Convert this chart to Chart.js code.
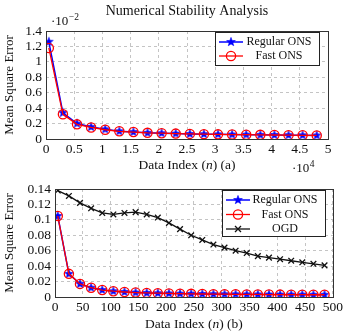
<!DOCTYPE html>
<html><head><meta charset="utf-8">
<script src="https://cdn.jsdelivr.net/npm/chart.js@4.4.0/dist/chart.umd.min.js"></script>
<style>
html,body{margin:0;padding:0;background:#fff;overflow:hidden;}
#wrap{position:relative;width:345px;height:335px;}
canvas{position:absolute;left:0;top:0;}
</style></head><body>
<div id="wrap">
<canvas id="c1" width="345" height="335" style="width:345px;height:335px"></canvas>
<canvas id="c2" width="345" height="335" style="width:345px;height:335px"></canvas>
</div>
<script>
// ---- Data: chart (a), x in units of 10^4, y in units of 10^-2
const xA = [0.05,0.3,0.55,0.8,1.05,1.3,1.55,1.8,2.05,2.3,2.55,2.8,3.05,3.3,3.55,3.8,4.05,4.3,4.55,4.8];
const regularA = [1.26,0.34,0.20,0.155,0.125,0.10,0.09,0.08,0.075,0.07,0.066,0.063,0.06,0.058,0.056,0.054,0.052,0.05,0.048,0.046];
const fastA    = [1.18,0.32,0.19,0.15,0.12,0.10,0.09,0.08,0.075,0.07,0.066,0.063,0.06,0.058,0.056,0.054,0.052,0.05,0.048,0.046];
// ---- Data: chart (b)
const xB = [5,25,45,65,85,105,125,145,165,185,205,225,245,265,285,305,325,345,365,385,405,425,445,465,485];
const regularB = [0.105,0.030,0.017,0.012,0.009,0.0075,0.0065,0.0058,0.0053,0.0049,0.0046,0.0043,0.0041,0.0039,0.0037,0.0036,0.0035,0.0034,0.0033,0.0032,0.0031,0.0030,0.0030,0.0029,0.0029];
const fastB    = [0.105,0.030,0.017,0.012,0.009,0.0075,0.0065,0.0058,0.0053,0.0049,0.0046,0.0043,0.0041,0.0039,0.0037,0.0036,0.0035,0.0034,0.0033,0.0032,0.0031,0.0030,0.0030,0.0029,0.0029];
const ogdB     = [0.138,0.131,0.122,0.115,0.109,0.107,0.109,0.110,0.107,0.103,0.096,0.088,0.080,0.074,0.068,0.064,0.060,0.057,0.053,0.051,0.049,0.047,0.045,0.043,0.041];
const seriesNames = ['Regular ONS','Fast ONS','OGD'];
const titleText = 'Numerical Stability Analysis';
const yTitle = 'Mean Square Error';

const FONT = "'Liberation Serif', 'Times New Roman', serif";

function starImage(color, R, r) {
  const s = Math.ceil(R*2)+2;
  const c = document.createElement('canvas');
  c.width = s; c.height = s;
  const g = c.getContext('2d');
  g.fillStyle = color; g.strokeStyle = color; g.lineWidth = 0.6;
  g.beginPath();
  for (let i = 0; i < 10; i++) {
    const rad = i % 2 === 0 ? R : r;
    const a = -Math.PI/2 + i*Math.PI/5;
    const px = s/2 + rad*Math.cos(a), py = s/2 + rad*Math.sin(a);
    i === 0 ? g.moveTo(px, py) : g.lineTo(px, py);
  }
  g.closePath(); g.fill(); g.stroke();
  return c;
}
const STAR = starImage('#0000ff', 4.6, 1.9);

function pts(xs, ys) { return xs.map((x, i) => ({x, y: ys[i]})); }

function dsRegular(xs, ys) {
  return {label: seriesNames[0], data: pts(xs, ys), borderColor:'#0000ff', backgroundColor:'#0000ff',
    borderWidth:1.5, pointStyle: STAR, pointRadius:4.6, tension:0, order:2, mk:'star'};
}
function dsFast(xs, ys) {
  return {label: seriesNames[1], data: pts(xs, ys), borderColor:'#ff0000', backgroundColor:'rgba(0,0,0,0)',
    borderWidth:1.3, pointStyle:'circle', pointRadius:4.6, pointBorderWidth:1.3, tension:0, order:1, mk:'circle'};
}
function dsOgd(xs, ys) {
  return {label: seriesNames[2], data: pts(xs, ys), borderColor:'#111', backgroundColor:'#111',
    borderWidth:1.3, pointStyle:'crossRot', pointRadius:4, pointBorderWidth:1.3, tension:0, order:3, mk:'cross'};
}

function fmt(v) { return String(Number(v.toFixed(4))); }

const deco = {
  id: 'deco',
  afterDraw(chart) {
    const o = chart.options.plugins.deco;
    const ctx = chart.ctx;
    const ca = chart.chartArea;
    ctx.save();
    // frame
    ctx.strokeStyle = '#333'; ctx.lineWidth = 1; ctx.setLineDash([]);
    ctx.strokeRect(Math.round(ca.left)+0.5, Math.round(ca.top)+0.5, Math.round(ca.right-ca.left), Math.round(ca.bottom-ca.top));
    ctx.fillStyle = '#111';
    // title
    if (o.title) {
      ctx.font = '14px ' + FONT; ctx.textAlign = 'center'; ctx.textBaseline = 'middle';
      ctx.fillText(o.title, (ca.left+ca.right)/2, o.titleY);
    }
    // x title with italic n
    const parts = [['Data Index (', 'normal'], ['n', 'italic'], [') ' + o.tag, 'normal']];
    let total = 0;
    parts.forEach(p => { ctx.font = p[1] + ' 13.5px ' + FONT; total += ctx.measureText(p[0]).width; });
    let x = (ca.left+ca.right)/2 - total/2;
    ctx.textAlign = 'left'; ctx.textBaseline = 'middle';
    parts.forEach(p => { ctx.font = p[1] + ' 13.5px ' + FONT; ctx.fillText(p[0], x, o.xTitleY); x += ctx.measureText(p[0]).width; });
    // exponents
    (o.exps || []).forEach(e => {
      ctx.font = '13px ' + FONT; ctx.textBaseline = 'alphabetic'; ctx.textAlign = 'left';
      ctx.fillText('\u00b710', e.x, e.y);
      const w = ctx.measureText('\u00b710').width;
      ctx.font = '9.5px ' + FONT;
      ctx.fillText(e.p, e.x + w + 0.5, e.y - 5);
    });
    // legend
    const L = o.legend;
    ctx.fillStyle = '#fff';
    ctx.fillRect(L.x, L.y, L.w, L.h);
    ctx.strokeStyle = '#222'; ctx.lineWidth = 1;
    ctx.strokeRect(L.x+0.5, L.y+0.5, L.w, L.h);
    chart.data.datasets.forEach((ds, i) => {
      const yy = L.y + L.row0 + i*L.dy;
      ctx.strokeStyle = ds.borderColor; ctx.lineWidth = ds.borderWidth;
      ctx.beginPath(); ctx.moveTo(L.x + 4, yy); ctx.lineTo(L.x + 28, yy); ctx.stroke();
      const mx = L.x + 16;
      if (ds.mk === 'star') ctx.drawImage(STAR, mx - STAR.width/2, yy - STAR.height/2);
      else if (ds.mk === 'circle') { ctx.lineWidth = 1.3; ctx.beginPath(); ctx.arc(mx, yy, 4.6, 0, Math.PI*2); ctx.stroke(); }
      else { ctx.lineWidth = 1.3; const d = 3; ctx.beginPath(); ctx.moveTo(mx-d, yy-d); ctx.lineTo(mx+d, yy+d); ctx.moveTo(mx+d, yy-d); ctx.lineTo(mx-d, yy+d); ctx.stroke(); }
      ctx.fillStyle = '#111'; ctx.font = '12px ' + FONT; ctx.textAlign = 'center'; ctx.textBaseline = 'middle';
      ctx.fillText(ds.label, L.x + L.textC, yy);
    });
    ctx.restore();
  }
};

function makeOptions(cfg) {
  return {
    responsive: false, animation: false, devicePixelRatio: 1,
    layout: {padding: {left: 0, right: cfg.right, top: cfg.top, bottom: cfg.bottom}},
    plugins: {legend: {display: false}, tooltip: {enabled: false}, title: {display: false}, deco: cfg.deco},
    scales: {
      x: {type: 'linear', min: cfg.xMin, max: cfg.xMax,
        afterFit: s => { s.height = cfg.xH; },
        ticks: {stepSize: cfg.xStep, color: '#111', font: {family: FONT, size: 13.5}, padding: 2, maxRotation: 0, autoSkip: false, callback: fmt},
        grid: {color: '#c4c4c4', lineWidth: 1, drawTicks: false},
        border: {display: false, dash: [3, 3]}},
      y: {type: 'linear', min: cfg.yMin, max: cfg.yMax,
        afterFit: s => { s.width = cfg.yW; },
        ticks: {stepSize: cfg.yStep, color: '#111', font: {family: FONT, size: 13.5}, padding: 4, autoSkip: false, callback: fmt},
        grid: {color: '#c4c4c4', lineWidth: 1, drawTicks: false},
        border: {display: false, dash: [3, 3]},
        title: {display: true, text: yTitle, color: '#111', font: {family: FONT, size: 13}, padding: {top: 2, bottom: 0}}}
    }
  };
}

new Chart(document.getElementById('c1'), {
  type: 'line',
  data: {datasets: [dsRegular(xA, regularA), dsFast(xA, fastA)]},
  options: makeOptions({right: 17, top: 31, bottom: 335 - 139 - 30, xH: 30, yW: 46,
    xMin: 0, xMax: 5, xStep: 0.5, yMin: 0, yMax: 1.4, yStep: 0.2,
    deco: {title: titleText, titleY: 11, tag: '(a)', xTitleY: 165,
      exps: [{x: 51, y: 25, p: '\u22122'}, {x: 292, y: 172, p: '4'}],
      legend: {x: 215, y: 32, w: 104, h: 33, row0: 10, dy: 14, textC: 64}}}),
  plugins: [deco]
});

new Chart(document.getElementById('c2'), {
  type: 'line',
  data: {datasets: [dsRegular(xB, regularB), dsFast(xB, fastB), dsOgd(xB, ogdB)]},
  options: makeOptions({right: 12, top: 189, bottom: 0, xH: 38, yW: 55,
    xMin: 0, xMax: 500, xStep: 50, yMin: 0, yMax: 0.14, yStep: 0.02,
    deco: {tag: '(b)', xTitleY: 324,
      legend: {x: 222, y: 190, w: 103, h: 46, row0: 10, dy: 14.5, textC: 63}}}),
  plugins: [deco]
});
</script>
</body></html>
